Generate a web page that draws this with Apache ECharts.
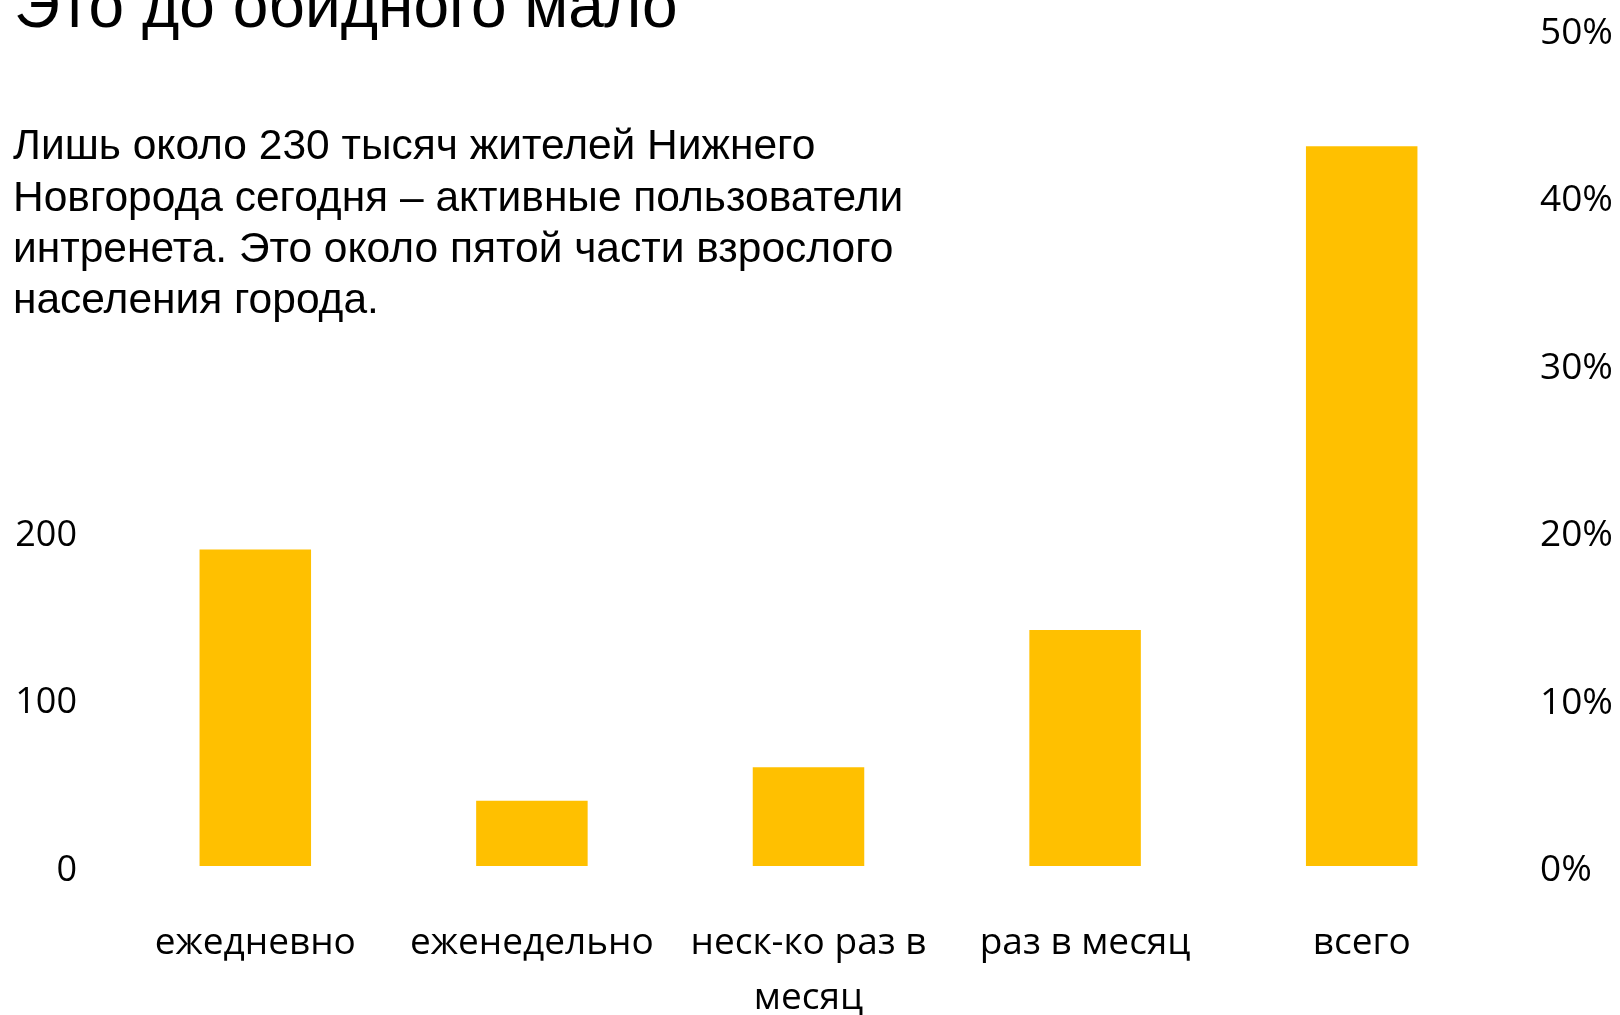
<!DOCTYPE html>
<html><head><meta charset="utf-8">
<script src="https://cdn.jsdelivr.net/npm/echarts@6/dist/echarts.min.js"></script>
<style>html,body{margin:0;padding:0;background:#fff}#c{width:1620px;height:1015px}</style>
</head><body><div id="c"></div>
<script>
var categories = ['ежедневно', 'еженедельно', 'неск-ко раз в\nмесяц', 'раз в месяц', 'всего'];
var usersThousands = [189, 39, 59, 141, null];
var sharePercent = [null, null, null, null, 43];
var leftTicks = [0, 100, 200];
var rightMax = 50;
var titleText = 'Это до обидного мало';
var bodyLines = [
  'Лишь около 230 тысяч жителей Нижнего',
  'Новгорода сегодня – активные пользователи',
  'интренета. Это около пятой части взрослого',
  'населения города.'
];

var chart = echarts.init(document.getElementById('c'), null, {renderer: 'canvas'});
var BAR = '#FFC000';
var axisFont = 'Open Sans';
var shiftRich = {v: {padding: [9, 0, 0, 0], fontFamily: axisFont, color: '#000'}};
chart.setOption({
  animation: false,
  backgroundColor: '#ffffff',
  grid: {left: 117, right: 120, top: 29, bottom: 149, containLabel: false, outerBoundsMode: 'none'},
  xAxis: {
    type: 'category', data: categories,
    axisLine: {show: false}, axisTick: {show: false},
    axisLabel: {color: '#000', fontFamily: axisFont, fontSize: 37, lineHeight: 55, margin: 50, interval: 0}
  },
  yAxis: [{
    type: 'value', min: 0, max: 500, interval: 100, position: 'left',
    splitLine: {show: false}, axisLine: {show: false}, axisTick: {show: false},
    axisLabel: {color: '#000', fontFamily: axisFont, fontSize: 36, margin: 40,
      rich: {v: {padding: [9, 0, 0, 0], fontFamily: axisFont, fontSize: 36, color: '#000'}},
      formatter: function (v) { return leftTicks.indexOf(v) >= 0 ? '{v|' + v + '}' : ''; }}
  }, {
    type: 'value', min: 0, max: rightMax, interval: 10, position: 'right',
    splitLine: {show: false}, axisLine: {show: false}, axisTick: {show: false},
    axisLabel: {color: '#000', fontFamily: axisFont, fontSize: 37, margin: 40,
      rich: {v: {padding: [9, 0, 0, 0], fontFamily: axisFont, fontSize: 37, color: '#000'}},
      formatter: function (v) { return '{v|' + v + '%}'; }}
  }],
  series: [{
    type: 'bar', yAxisIndex: 0, data: usersThousands, barWidth: 111.5, barGap: '-100%',
    itemStyle: {color: BAR}
  }, {
    type: 'bar', yAxisIndex: 1, data: sharePercent, barWidth: 111.5, barGap: '-100%',
    itemStyle: {color: BAR}
  }],
  graphic: [{
    type: 'text', left: 14, top: -23,
    style: {text: titleText, font: '64px "Liberation Sans", Arial, sans-serif', fill: '#000'}
  }, {
    type: 'text', left: 13, top: 122,
    style: {text: bodyLines.join('\n'), font: '42.5px "Liberation Sans", Arial, sans-serif', lineHeight: 51.3, fill: '#000'}
  }]
});
</script></body></html>
